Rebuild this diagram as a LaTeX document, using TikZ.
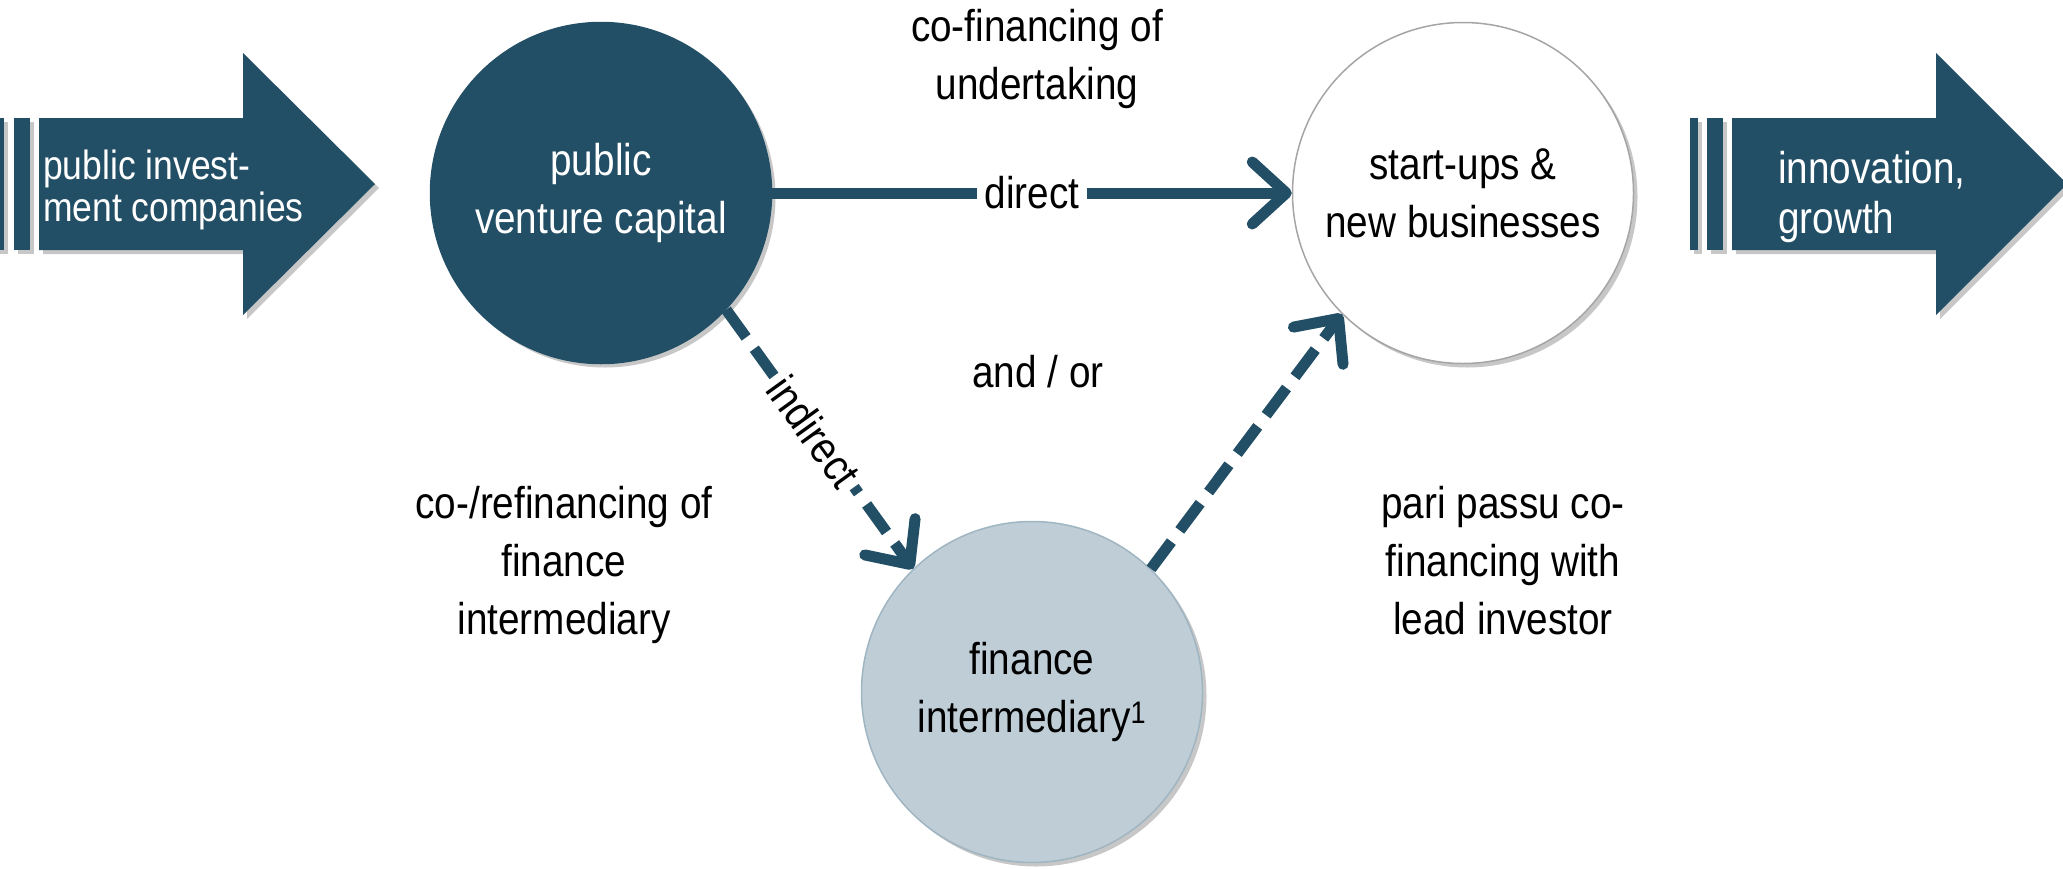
\documentclass[tikz,border=0pt]{standalone}
\usepackage{fontspec}
\setmainfont[FakeStretch=0.87]{Liberation Sans}
\usetikzlibrary{arrows.meta,shadows}
\definecolor{mydark}{RGB}{34,79,102}
\definecolor{mylight}{RGB}{191,206,214}
\definecolor{mylightb}{RGB}{160,181,194}
\definecolor{mygray}{RGB}{165,165,165}
\begin{document}
\begin{tikzpicture}[x=1pt,y=-1pt,
  every node/.style={font=\fontsize{44.5}{58}\selectfont, inner sep=0pt, align=center},
  shad/.style={drop shadow={shadow xshift=4pt,shadow yshift=-4pt,opacity=.22,fill=black}},
  circ/.style={circle, minimum size=341pt, line width=1.5pt, shad},
  conn/.style={draw=mydark, line width=11pt, -{Straight Barb[length=34pt,width=62pt,round]}},
  dashconn/.style={conn, dash pattern=on 34pt off 14pt},
  lbl/.style={fill=white, inner xsep=8pt, inner ysep=4pt},
  bigtext/.style={text=white, align=left, anchor=west}
]
\useasboundingbox (0,0) rectangle (2063,868);
% left big arrow
\fill[mydark, shad] (-10,118) rectangle (4,250);
\fill[mydark, shad] (14,118) rectangle (30,250);
\fill[mydark, shad] (39,118) -- (243,118) -- (243,53) -- (375,184) -- (243,315) -- (243,250) -- (39,250) -- cycle;
\node[bigtext, font=\fontsize{40.8}{42}\selectfont] (inv) at (43,190) {public invest-\\ment companies};
% right big arrow
\fill[mydark, shad] (1690,118) rectangle (1698,250);
\fill[mydark, shad] (1707,118) rectangle (1723,250);
\fill[mydark, shad] (1732,118) -- (1936,118) -- (1936,53) -- (2067,184) -- (1936,315) -- (1936,250) -- (1732,250) -- cycle;
\node[bigtext, font=\fontsize{44.5}{50}\selectfont] (innov) at (1778,197) {innovation,\\growth};
% circles
\node[circ, fill=mydark, draw=mydark, text=white] (c1) at (601,193) {public\\venture capital};
\node[circ, fill=white, draw=mygray] (c2) at (1463,193) {start-ups \&\\new businesses};
\node[circ, fill=mylight, draw=mylightb] (c3) at (1032,692) {finance\\intermediary\textsuperscript{1}};
% free texts
\node (cofin) at (1037,59) {co-financing of\\undertaking};
\node (andor) at (1038,372) {and / or};
\node (corefin) at (564,565) {co-/refinancing of\\finance\\intermediary};
\node (pari) at (1503,561) {pari passu co-\\financing with\\lead investor};
% connectors
\draw[conn] (c1.east) -- node[lbl] (direct) {direct} (c2.west);
\draw[dashconn] (c1.-43) -- node[lbl, sloped, pos=0.47, inner xsep=6pt, inner ysep=0pt] (indirect) {indirect} (c3.134);
\draw[dashconn] (c3.46) -- (c2.225);
\end{tikzpicture}
\end{document}
